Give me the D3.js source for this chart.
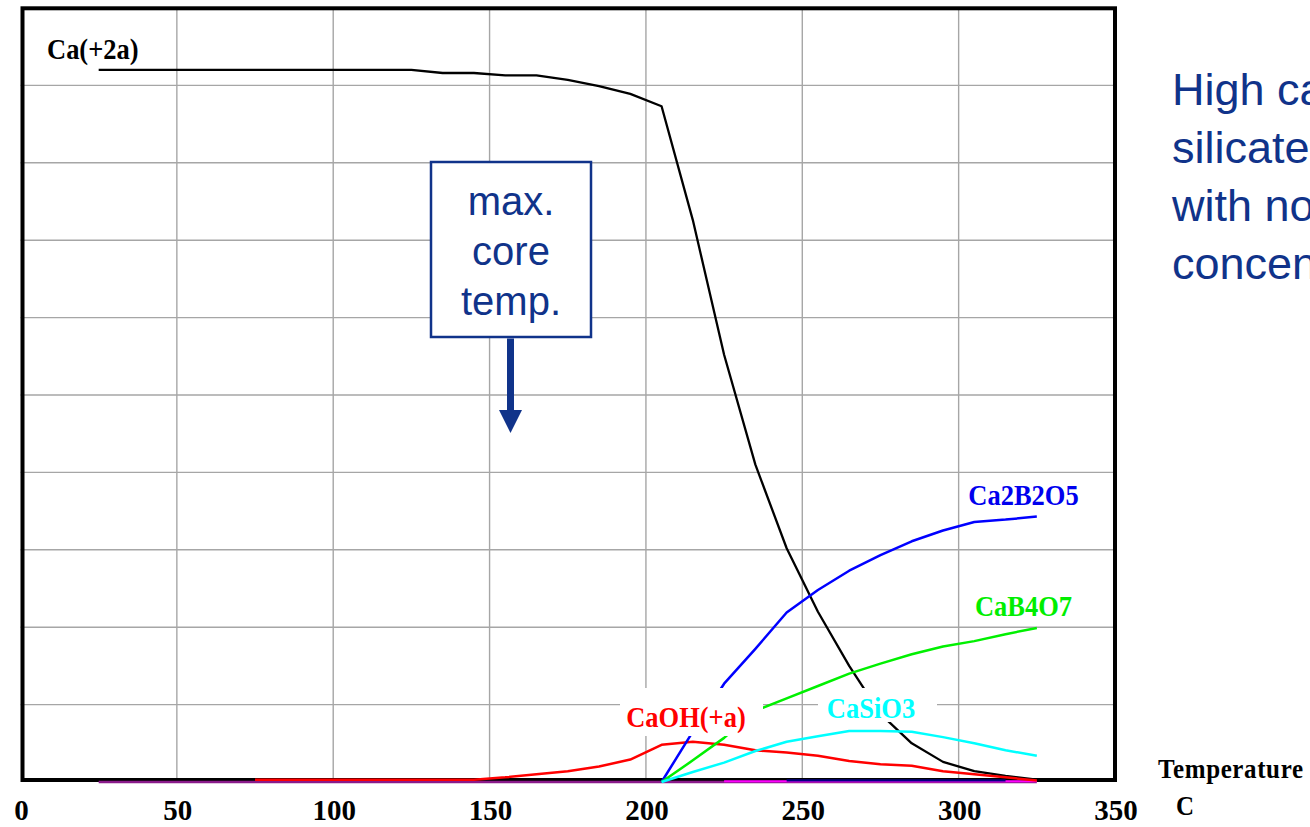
<!DOCTYPE html>
<html>
<head>
<meta charset="utf-8">
<script src="https://cdn.jsdelivr.net/npm/d3@7/dist/d3.min.js"></script>
<style>
  html, body { margin: 0; padding: 0; background: #fff; overflow: hidden; }
  svg { display: block; }
</style>
</head>
<body>
<svg id="chart" width="1310" height="827"></svg>
<script>
// ---------------- data ----------------
const temps = [25,35,45,55,65,75,85,95,105,115,125,135,145,155,165,175,185,195,205,215,225,235,245,255,265,275,285,295,305,315,325];
const tempsCaOH = [75,85,95,105,115,125,135,145,155,165,175,185,195,205,215,225,235,245,255,265,275,285,295,305,315,325];
const tempsHigh = [205,215,225,235,245,255,265,275,285,295,305,315,325];
const tempsMagenta = [225,235,245,255,265,275,285,295,305,315,325];
const tempsNavy = [245,255,265,275,285,295,305,315];

const caPlus2a = [0.920,0.920,0.920,0.920,0.920,0.920,0.920,0.920,0.920,0.920,0.920,0.916,0.916,0.913,0.913,0.907,0.899,0.889,0.873,0.726,0.552,0.410,0.302,0.220,0.150,0.088,0.050,0.026,0.014,0.008,0.003];
const caOH = [0.003,0.003,0.003,0.003,0.003,0.003,0.003,0.003,0.006,0.010,0.014,0.020,0.029,0.048,0.052,0.048,0.041,0.038,0.034,0.027,0.023,0.021,0.014,0.010,0.006,0.002];
const ca2B2O5 = [0,0.065,0.127,0.172,0.219,0.248,0.273,0.293,0.311,0.325,0.336,0.339,0.343];
const caB4O7 = [0,0.028,0.057,0.092,0.108,0.124,0.140,0.153,0.165,0.175,0.182,0.191,0.199];
const caSiO3 = [0,0.013,0.025,0.040,0.052,0.059,0.066,0.066,0.065,0.058,0.050,0.041,0.034];
const purpleBase = [0,0,0,0,0,0,0,0,0,0,0,0,0,0,0,0,0,0,0,0,0,0,0,0,0,0,0,0,0,0,0];
const magentaSmall = [0.001,0.001,0.001,0.001,0.001,0.001,0.001,0.001,0.001,0.001,0.001];
const navySmall = [0.002,0.002,0.002,0.002,0.002,0.002,0.002,0.002];

const xTicks = [0,50,100,150,200,250,300,350];
const xGrid = [50,100,150,200,250,300];
const yGrid = [0.1,0.2,0.3,0.4,0.5,0.6,0.7,0.8,0.9];

const seriesNames = ["Ca(+2a)","CaOH(+a)","Ca2B2O5","CaB4O7","CaSiO3"];
const boxLines = ["max.","core","temp."];
const sideLines = ["High calcium","silicates formed","with no CaOH","concentration"];
const axisTitle = ["Temperature","C"];

// ---------------- layout ----------------
const svg = d3.select("#chart");
const x = d3.scaleLinear().domain([0,350]).range([20.5,1115]);
const y = d3.scaleLinear().domain([0,1]).range([782,8]);

const serif = "'Liberation Serif','Times New Roman',serif";
const sans = "'Liberation Sans',Arial,sans-serif";
const annBlue = "#10338a";

// grid
const g = svg.append("g");
g.selectAll("line.vg").data(xGrid).join("line")
  .attr("x1", d => x(d)).attr("x2", d => x(d))
  .attr("y1", y(1)).attr("y2", y(0))
  .attr("stroke", "#a6a6a6").attr("stroke-width", 1.4);
g.selectAll("line.hg").data(yGrid).join("line")
  .attr("x1", x(0)).attr("x2", x(350))
  .attr("y1", d => y(d)).attr("y2", d => y(d))
  .attr("stroke", "#a6a6a6").attr("stroke-width", 1.4);

// frame
svg.append("rect")
  .attr("x", x(0) + 2).attr("y", y(1) + 0.3)
  .attr("width", x(350) - x(0) - 2).attr("height", y(0) - y(1) - 2.3)
  .attr("fill", "none").attr("stroke", "#000").attr("stroke-width", 4);

// lines
const line = d3.line().x(d => x(d[0])).y(d => y(d[1]));
function drawSeries(ts, vals, color, w) {
  svg.append("path")
    .datum(ts.map((t, i) => [t, vals[i]]))
    .attr("d", line)
    .attr("fill", "none")
    .attr("stroke", color)
    .attr("stroke-width", w)
    .attr("stroke-linejoin", "round");
}
drawSeries(temps, purpleBase, "#8a1a8a", 2.5);
drawSeries(tempsMagenta, magentaSmall, "#ff00ff", 2.2);
drawSeries(tempsNavy, navySmall, "#000080", 2.2);
drawSeries(temps, caPlus2a, "#000000", 2.3);
drawSeries(tempsCaOH, caOH, "#ff0000", 2.5);
drawSeries(tempsHigh, ca2B2O5, "#0000ff", 2.5);
drawSeries(tempsHigh, caB4O7, "#00f000", 2.5);
drawSeries(tempsHigh, caSiO3, "#00ffff", 2.5);

// series labels with white backgrounds
const labelSpecs = [
  {name: seriesNames[0], color: "#000000", xx: 47, yy: 59, anchor: "start", bg: null},
  {name: seriesNames[1], color: "#ff0000", xx: 686, yy: 727, anchor: "middle", bg: [620, 688, 143, 48]},
  {name: seriesNames[2], color: "#0000ee", xx: 1023.5, yy: 505, anchor: "middle", bg: null},
  {name: seriesNames[3], color: "#00ee00", xx: 1023.5, yy: 615.5, anchor: "middle", bg: null},
  {name: seriesNames[4], color: "#00ffff", xx: 871, yy: 718, anchor: "middle", bg: [818, 688, 119, 34]}
];
labelSpecs.forEach(s => {
  if (s.bg) {
    svg.append("rect").attr("x", s.bg[0]).attr("y", s.bg[1])
      .attr("width", s.bg[2]).attr("height", s.bg[3]).attr("fill", "#fff");
  }
  svg.append("text")
    .attr("transform", `translate(${s.xx},${s.yy}) scale(1,1.1)`)
    .attr("text-anchor", s.anchor)
    .attr("font-family", serif).attr("font-weight", "bold")
    .attr("font-size", 26.5)
    .attr("fill", s.color)
    .text(s.name);
});

// x tick labels
svg.selectAll("text.tick").data(xTicks).join("text")
  .attr("x", d => x(d) + 1).attr("y", 820)
  .attr("text-anchor", "middle")
  .attr("font-family", serif).attr("font-weight", "bold")
  .attr("font-size", 29).attr("fill", "#000")
  .text(d => d);

// axis title
svg.append("text").attr("transform", "translate(1158,778) scale(1,1.1)")
  .attr("font-family", serif).attr("font-weight", "bold")
  .attr("font-size", 25).attr("fill", "#000")
  .attr("textLength", 145).attr("lengthAdjust", "spacing")
  .text(axisTitle[0]);
svg.append("text").attr("transform", "translate(1176,815) scale(1,1.1)")
  .attr("font-family", serif).attr("font-weight", "bold")
  .attr("font-size", 25).attr("fill", "#000")
  .text(axisTitle[1]);

// annotation box + arrow
svg.append("rect").attr("x", 431).attr("y", 162)
  .attr("width", 160).attr("height", 175)
  .attr("fill", "#fff").attr("stroke", annBlue).attr("stroke-width", 2.5);
boxLines.forEach((t, i) => {
  svg.append("text").attr("x", 511).attr("y", 215 + i * 50)
    .attr("text-anchor", "middle")
    .attr("font-family", sans).attr("font-size", 40)
    .attr("fill", annBlue).text(t);
});
svg.append("rect").attr("x", 507).attr("y", 338.5).attr("width", 7).attr("height", 73).attr("fill", annBlue);
svg.append("path").attr("d", "M499,410 L522,410 L510.5,433 Z").attr("fill", annBlue);

// side text (cut off by the right page edge, as in the reference)
sideLines.forEach((t, i) => {
  svg.append("text").attr("x", 1172).attr("y", 105 + i * 58)
    .attr("font-family", sans).attr("font-size", 45)
    .attr("fill", annBlue).text(t);
});
</script>
</body>
</html>
